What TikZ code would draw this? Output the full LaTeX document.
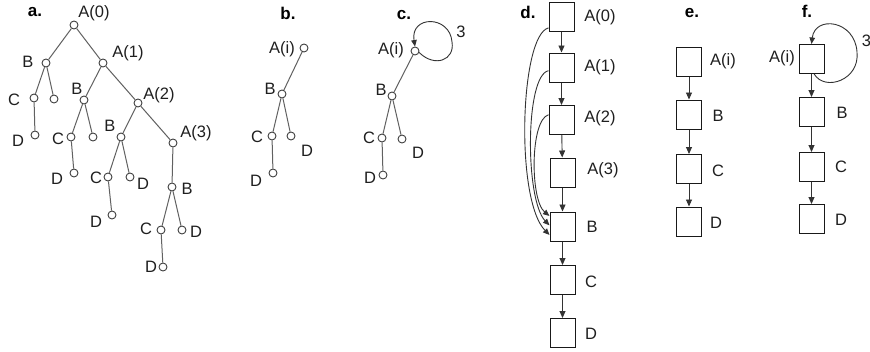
\documentclass[tikz,border=0pt]{standalone}
\usepackage{fontspec}
\setmainfont{Liberation Sans}
\usetikzlibrary{arrows.meta}
\begin{document}
\begin{tikzpicture}[x=1pt,y=-1pt,
  vert/.style={circle,draw=black!75,fill=white,line width=0.9pt,minimum size=8pt,inner sep=0pt},
  edge/.style={draw=black!62,line width=1pt},
  lbl/.style={inner sep=0pt,font=\fontsize{16.5}{19}\selectfont,text=black!88},
  head/.style={inner sep=0pt,font=\fontsize{17}{20}\selectfont\bfseries},
  blk/.style={draw=black!90,line width=1pt,minimum width=25pt,minimum height=29pt,inner sep=0pt,fill=white},
  arr/.style={-{Triangle[length=7pt,width=6pt]},line width=0.9pt,draw=black!80},
  larr/.style={-{Triangle[length=6.5pt,width=5.5pt]},line width=0.9pt,draw=black!80},
]
\useasboundingbox (0,0) rectangle (870,351);
\fill[white] (0,0) rectangle (870,351);

% ---------- a ----------
\node[head] (ha) at (35,12) {a.};
\node[vert] (a0) at (74,25) {};
\node[vert] (aB1) at (46,63) {};
\node[vert] (a1) at (103,63) {};
\node[vert] (aC1) at (34,98) {};
\node[vert] (aX1) at (54,99) {};
\node[vert] (aD1) at (35,135) {};
\node[vert] (aB2) at (84,100) {};
\node[vert] (a2) at (138,103) {};
\node[vert] (aC2) at (71,137) {};
\node[vert] (aX2) at (93,137) {};
\node[vert] (aD2) at (74,173) {};
\node[vert] (aB3) at (121,137) {};
\node[vert] (a3) at (173,143) {};
\node[vert] (aC3) at (108,177) {};
\node[vert] (aX3) at (130,177) {};
\node[vert] (aD3) at (112,215) {};
\node[vert] (aB4) at (172,187) {};
\node[vert] (aC4) at (161,230) {};
\node[vert] (aX4) at (182,230) {};
\node[vert] (aD4) at (163,267) {};
\foreach \p/\c in {a0/aB1,a0/a1,aB1/aC1,aB1/aX1,aC1/aD1,a1/aB2,a1/a2,aB2/aC2,aB2/aX2,aC2/aD2,
  a2/aB3,a2/a3,aB3/aC3,aB3/aX3,aC3/aD3,a3/aB4,aB4/aC4,aB4/aX4,aC4/aD4}
  \draw[edge] (\p) -- (\c);
\node[lbl] (la0) at (94,13) {A(0)};
\node[lbl] (laB1) at (28,62) {B};
\node[lbl] (la1) at (128,53) {A(1)};
\node[lbl] (laC1) at (14,100) {C};
\node[lbl] (laD1) at (18,141) {D};
\node[lbl] (laB2) at (77,89) {B};
\node[lbl] (la2) at (159,95) {A(2)};
\node[lbl] (laC2) at (58,139) {C};
\node[lbl] (laD2) at (57,179) {D};
\node[lbl] (laB3) at (110,126) {B};
\node[lbl] (la3) at (196,133) {A(3)};
\node[lbl] (laC3) at (96,178) {C};
\node[lbl] (laX3) at (143,184) {D};
\node[lbl] (laD3) at (96,222) {D};
\node[lbl] (laB4) at (187,189) {B};
\node[lbl] (laC4) at (146,229) {C};
\node[lbl] (laX4) at (196,232) {D};
\node[lbl] (laD4) at (151,267) {D};

% ---------- b ----------
\node[head] (hb) at (288,13) {b.};
\node[vert] (bA) at (304,48) {};
\node[vert] (bB) at (282,94) {};
\node[vert] (bC) at (272,136) {};
\node[vert] (bX) at (291,136) {};
\node[vert] (bD) at (273,173) {};
\foreach \p/\c in {bA/bB,bB/bC,bB/bX,bC/bD} \draw[edge] (\p) -- (\c);
\node[lbl] (lbA) at (282,49) {A(i)};
\node[lbl] (lbB) at (270,89) {B};
\node[lbl] (lbC) at (257,137) {C};
\node[lbl] (lbX) at (307,151) {D};
\node[lbl] (lbD) at (256,181) {D};

% ---------- c ----------
\node[head] (hc) at (404,15) {c.};
\node[vert] (cA) at (415,51) {};
\node[vert] (cB) at (392,96) {};
\node[vert] (cC) at (382,138) {};
\node[vert] (cX) at (402,139) {};
\node[vert] (cD) at (383,175) {};
\foreach \p/\c in {cA/cB,cB/cC,cB/cX,cC/cD} \draw[edge] (\p) -- (\c);
\draw[larr] (cA.-20) .. controls (435,68) and (455,60) .. (452,42)
  .. controls (450,15) and (410,15) .. (cA.north);
\node[lbl] (lc3) at (461,32) {3};
\node[lbl] (lcA) at (391,50) {A(i)};
\node[lbl] (lcB) at (381,90) {B};
\node[lbl] (lcC) at (369,138) {C};
\node[lbl] (lcX) at (418,153) {D};
\node[lbl] (lcD) at (370,178) {D};

% ---------- d ----------
\node[head] (hd) at (528,12) {d.};
\node[blk] (dA0) at (561.5,17) {};
\node[blk] (dA1) at (561.5,67.5) {};
\node[blk] (dA2) at (561.5,120) {};
\node[blk] (dA3) at (562.5,172.5) {};
\node[blk] (dB) at (562.5,226.5) {};
\node[blk] (dC) at (562.5,280) {};
\node[blk] (dD) at (562.5,333) {};
\foreach \p/\c in {dA0/dA1,dA1/dA2,dA2/dA3,dA3/dB,dB/dC,dC/dD} \draw[arr] (\p) -- (\c);
\draw[larr] (dA0.220) .. controls (520,35) and (515,200) .. (dB.213);
\draw[larr] (dA1.194) .. controls (525,75) and (525,200) .. (dB.175);
\draw[larr] (dA2.158) .. controls (530,120) and (530,200) .. (dB.141);
\node[lbl] (ldA0) at (600,17) {A(0)};
\node[lbl] (ldA1) at (600,67) {A(1)};
\node[lbl] (ldA2) at (600,118) {A(2)};
\node[lbl] (ldA3) at (603,170) {A(3)};
\node[lbl] (ldB) at (592,227) {B};
\node[lbl] (ldC) at (591,282) {C};
\node[lbl] (ldD) at (591,334) {D};

% ---------- e ----------
\node[head] (he) at (692,13) {e.};
\node[blk] (eA) at (689,61.5) {};
\node[blk] (eB) at (689,114.5) {};
\node[blk] (eC) at (689,169) {};
\node[blk] (eD) at (689,221.5) {};
\foreach \p/\c in {eA/eB,eB/eC,eC/eD} \draw[arr] (\p) -- (\c);
\node[lbl] (leA) at (723,61) {A(i)};
\node[lbl] (leB) at (718,116) {B};
\node[lbl] (leC) at (718,171) {C};
\node[lbl] (leD) at (716,223) {D};

% ---------- f ----------
\node[head] (hf) at (807,11) {f.};
\node[blk] (fA) at (811.5,59) {};
\node[blk] (fB) at (811.5,112) {};
\node[blk] (fC) at (811.5,167) {};
\node[blk] (fD) at (811.5,219) {};
\foreach \p/\c in {fA/fB,fB/fC,fC/fD} \draw[arr] (\p) -- (\c);
\draw[larr] (fA.-80) .. controls (825,92) and (860,80) .. (857,52)
  .. controls (855,20) and (815,15) .. (fA.north);
\node[lbl] (lf3) at (866.5,41) {3};
\node[lbl] (lfA) at (782,58) {A(i)};
\node[lbl] (lfB) at (842,113) {B};
\node[lbl] (lfC) at (841,167) {C};
\node[lbl] (lfD) at (841,220) {D};
\end{tikzpicture}
\end{document}
